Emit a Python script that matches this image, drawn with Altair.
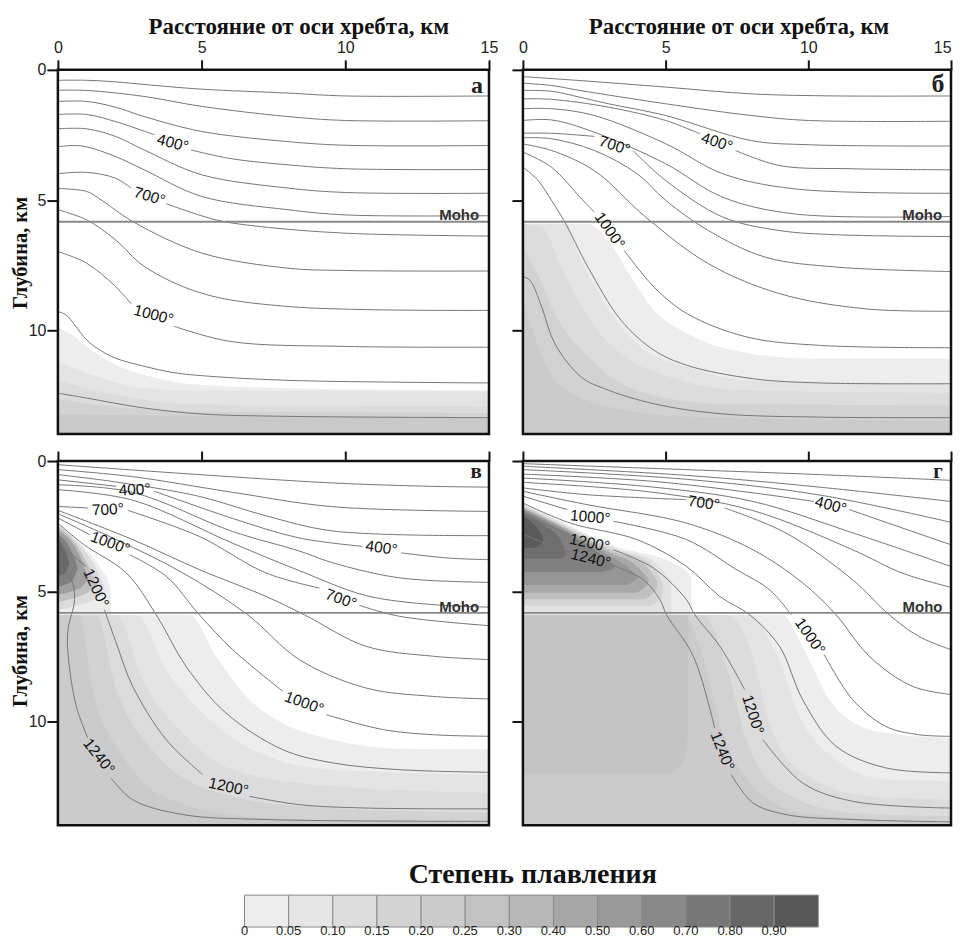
import altair as alt
import pandas as pd

XT = "Расстояние от оси хребта, км"
YT = "Глубина, км"
DMAX = 13.96
MOHO = 5.82
B = 13.96  # bottom of the section, km

# ---------- isotherms: (distance km, depth km), None = gap for a label ----------
A_LINES = [
 [(0,.40),(1,.40),(2,.46),(3,.56),(5,.74),(8,.89),(10,1.0),(15,1.0)],
 [(0,.78),(1,.79),(3,1.02),(5,1.40),(8,1.79),(10,1.94),(15,1.95)],
 [(0,1.21),(1,1.21),(2,1.43),(3,1.79),(5,2.36),(8,2.75),(10,2.89),(15,2.90)],
 [(0,1.71),(1,1.71),(2,1.98),(3,2.35),(3.36,2.49),None,(4.63,3.07),(6,3.4),(8,3.64),(10,3.79),(15,3.82)],
 [(0,2.26),(1,2.26),(2,2.55),(3,3.07),(5,4.02),(8,4.53),(10,4.70),(15,4.73)],
 [(0,2.95),(.5,2.90),(1,2.95),(2,3.32),(3,3.83),(5,4.85),(8,5.36),(10,5.56),(15,5.59)],
 [(0,3.98),(1,3.93),(2,4.15),(2.55,4.53),None,(3.77,5.13),(5.5,5.75),(7,6.0),(10,6.26),(15,6.37)],
 [(0,4.55),(1,4.66),(1.5,4.98),(2.6,5.81),(5,7.02),(8,7.6),(10,7.69),(15,7.71)],
 [(0,5.36),(1,5.75),(2,6.51),(3,7.53),(5,8.56),(8,9.07),(15,9.22)],
 [(0,6.96),(1,7.41),(2,8.30),(2.55,8.97),None,(4.05,9.83),(6,10.41),(10,10.6),(15,10.63)],
 [(0,9.26),(.29,9.4),(.58,9.77),(1,10.35),(1.45,10.73),(2,11.05),(3,11.36),(4,11.6),(5,11.72),(8,11.9),(15,12.0)],
 [(0,12.39),(1,12.58),(3,12.96),(5,13.19),(8,13.28),(15,13.33)],
]
B_LINES = [
 [(0,.26),(2,.41),(5,.66),(8,.92),(11,1.0),(15,1.0)],
 [(0,.51),(1,.6),(2,.79),(5,1.3),(8,1.75),(10,1.94),(15,1.97)],
 [(0,.79),(1,.82),(2,1.05),(3,1.3),(5,1.75),(8,2.71),(10,2.87),(15,2.92)],
 [(0,1.11),(1,1.13),(3,1.43),(5,1.94),(6.2,2.45),None,(7.45,3.09),(9,3.67),(11.5,3.79),(15,3.83)],
 [(0,1.49),(1,1.49),(2.5,1.75),(5,2.83),(7,3.98),(9.5,4.56),(15,4.73)],
 [(0,1.94),(1,1.92),(2.5,2.39),(5,3.6),(7,4.88),(9.5,5.52),(15,5.62)],
 [(0,2.43),(1,2.43),(2.5,2.55),None,(3.85,3.09),(5,4.24),(7,5.64),(9,6.16),(11,6.32),(15,6.39)],
 [(0,2.6),(1,2.64),(2.5,3.09),(4,3.98),(5,5.0),(6.5,6.16),(8.5,7.18),(11,7.56),(15,7.73)],
 [(0,2.84),(1,3.09),(2.5,3.86),(4.3,5.64),(6.5,7.43),(9,8.58),(12,9.16),(15,9.25)],
 [(0,3.15),(1,3.73),(2,4.88),(2.5,5.45),None,(3.55,6.92),(4.6,8.33),(5.76,9.35),(7.85,10.24),(10.4,10.56),(15,10.65)],
 [(0,3.73),(.5,4.2),(1,5.0),(1.47,5.84),(2.28,7.56),(3.44,9.6),(4.6,10.75),(5.76,11.33),(8.08,11.84),(10.4,12.0),(15,12.03)],
 [(0,7.92),(.25,8.07),(.66,9.09),(1.12,10.5),(2.05,11.78),(2.86,12.22),(4.6,12.8),(6.92,13.18),(10.4,13.31),(15,13.33)],
]
C_LINES = [
 [(0,.14),(4.92,.52),(9.56,.84),(13,.97),(15,1.0)],
 [(0,.33),(2.6,.6),(6.08,1.2),(9.56,1.75),(15,1.93)],
 [(0,.52),(2,.8),(4.9,1.35),(7.24,2.1),(9.56,2.68),(15,2.86)],
 [(0,.72),(2.03,.97),None,(3.36,1.16),(6.08,2.2),(8.4,2.95),(10.6,3.27),None,(11.94,3.52),(13.6,3.72),(15,3.78)],
 [(0,.91),(2.6,1.2),(6.08,2.7),(8.4,3.45),(9.56,3.9),(11.9,4.48),(15,4.65)],
 [(0,1.1),(2.6,1.5),(6.08,3.15),(8.4,4.2),(10.7,5.15),(13,5.5),(15,5.6)],
 [(0,1.74),(1.04,1.8),None,(2.43,1.89),(4.92,2.89),(7.24,4.29),(9.1,4.87),None,(10.49,5.53),(11.88,5.95),(15,6.31)],
 [(0,1.89),(2.6,3.01),(4.92,4.16),(7.24,5.19),(8.57,5.89),(10.72,7.1),(13.04,7.48),(15,7.61)],
 [(0,2.02),(2.03,3.01),(4.35,4.29),(6.6,5.89),(8.4,7.61),(10.72,8.7),(13.04,9.02),(15,9.12)],
 [(0,2.18),(1.1,2.82),None,(2.49,3.59),(3.77,4.42),(4.92,5.89),(6.08,7.23),(7.82,8.82),None,(9.33,9.72),(11.3,10.29),(13.04,10.49),(15,10.55)],
 [(0,2.38),(.9,3.2),(2.38,4.29),(3.42,5.89),(4.46,7.87),(5.85,9.66),(7.82,11.06),(9.56,11.57),(11.88,11.83),(15,11.93)],
 [(0,3.14),(.98,4.04),None,(1.62,5.7),(2.03,6.97),(2.6,8.63),(3.77,10.68),(5.04,12.02),None,(6.66,12.85),(8.4,13.17),(10.72,13.3),(15,13.33)],
 [(0,4.01),(.46,4.55),(.58,5.31),(.35,6.46),(.35,7.36),(.64,9.4),(1.04,10.61),None,(1.85,12.15),(2.6,12.98),(4.35,13.55),(7.24,13.74),(15,13.81)],
]
D_LINES = [
 [(0,.1),(5.73,.33),(10.38,.52),(15,.74)],
 [(0,.2),(5.73,.55),(10.38,1.0),(15,1.55)],
 [(0,.33),(5.73,.7),(10.38,1.3),(15,2.35)],
 [(0,.5),(4.57,.78),(8.06,1.22),(10.2,1.55),None,(11.43,1.86),(13.3,2.57),(15,3.21)],
 [(0,.65),(4.57,1.0),(8.06,1.55),(11.55,2.75),(15,4.04)],
 [(0,.82),(4.57,1.2),(8.06,1.9),(11.55,3.4),(13.3,4.3),(15,4.84)],
 [(0,1.03),(2.24,1.29),(5.73,1.48),None,(7.07,1.8),(9.22,2.76),(11.55,4.55),(12.83,5.89),(13.87,6.72),(15,7.23)],
 [(0,1.16),(2.24,1.67),(5.73,2.38),(8.06,3.4),(9.8,4.67),(10.97,5.89),(12.13,7.48),(13.64,8.63),(15,8.95)],
 [(0,1.35),(1.55,1.86),None,(3.17,2.31),(5.73,3.01),(7.48,4.16),(8.64,4.93),(9.4,5.89),None,(10.56,7.42),(11.55,9.14),(12.71,10.17),(13.87,10.49),(15,10.55)],
 [(0,1.61),(1.66,2.38),(3.99,3.01),(5.73,4.04),(6.9,5.19),(7.94,5.89),(8.99,7.1),(9.8,9.14),(10.97,10.93),(12.71,11.76),(15,11.95)],
 [(0,2.06),(1.66,2.82),None,(3.17,3.4),(4.57,4.1),(5.73,5.31),(6.02,5.89),(6.9,7.1),(7.77,8.76),None,(8.41,10.68),(9.8,12.34),(11.55,13.04),(15,13.3)],
 [(0,2.82),(1.66,3.52),None,(3.17,4.01),(4.22,4.55),(4.8,5.31),(5.03,5.89),(5.97,7.48),(6.72,10.23),None,(7.3,12.02),(8.06,13.1),(9.22,13.55),(11.55,13.74),(15,13.83)],
]

# ---------- isotherm labels: text, distance, depth, rotation ----------
A_LABELS = [("400°",4.0,2.81,15),("700°",3.19,4.85,17),("1000°",3.33,9.39,15)]
B_LABELS = [("700°",3.21,2.9,18),("400°",6.8,2.77,18),("1000°",3.04,6.16,55)]
C_LABELS = [("400°",2.67,1.1,357),("700°",1.74,1.86,357),("1000°",1.82,3.14,20),("1200°",1.33,4.87,65),
            ("400°",11.26,3.33,8),("700°",9.85,5.29,20),("1000°",8.57,9.27,20),("1200°",5.94,12.49,12),("1240°",1.43,11.32,52)]
D_LABELS = [("700°",6.34,1.61,8),("400°",10.79,1.7,15),("1000°",2.36,2.15,5),("1200°",2.34,3.14,12),("1240°",2.38,3.74,14),
            ("1000°",10.06,6.72,55),("1200°",8.06,9.72,72),("1240°",6.99,11.12,68)]

# ---------- melt bands: colour, [(distance, upper depth, lower depth)] ----------
M = 5.9
A_BANDS = [
 ("#ededed",[(0,9.9,B),(.5,10.15,B),(1,10.6,B),(2,11.3,B),(3,11.69,B),(4,11.95,B),(5,12.07,B),(8,12.2,B),(15,12.29,B)]),
 ("#e4e4e4",[(0,11.24,B),(1,11.62,B),(3,12.2,B),(5,12.29,B),(15,12.33,B)]),
 ("#dcdcdc",[(0,11.9,B),(1,12.2,B),(3,12.64,B),(5,12.83,B),(15,12.9,B)]),
 ("#d2d2d2",[(0,12.6,B),(1,12.8,B),(3,13.0,B),(5,13.1,B),(15,13.15,B)]),
 ("#c9c9c9",[(0,13.2,B),(5,13.27,B),(15,13.35,B)]),
]
B_BANDS = [
 ("#ededed",[(0,M,B),(2.28,M,B),(2.98,6.54,B),(3.79,7.94,B),(4.6,9.22,B),(5.76,10.1,B),(8,10.88,B),(10.4,11.07,B),(15,11.07,B)]),
 ("#e4e4e4",[(0,M,B),(1.47,M,B),(1.93,7.05,B),(4,10.5,B),(5.76,11.39,B),(8,11.9,B),(15,12.0,B)]),
 ("#dcdcdc",[(0,M,B),(.66,6.03,B),(1.36,7.56,B),(2.28,9.48,B),(3.44,10.88,B),(5.18,11.78,B),(8,12.29,B),(15,12.38,B)]),
 ("#d2d2d2",[(0,6.8,B),(.5,7.8,B),(1.12,9.35,B),(2.28,11.0,B),(4,12.29,B),(6.9,12.8,B),(15,12.86,B)]),
 ("#cbcbcb",[(0,8.8,B),(.5,10.5,B),(1.2,12,B),(3,12.9,B),(6,13.3,B),(15,13.45,B)]),
]
C_BANDS = [
 ("#ededed",[(0,2.38,M),(.87,3.25,M),(1.46,4.06,M),(1.8,4.8,M),(1.85,5.5,M)]),
 ("#dcdcdc",[(0,2.42,5.7),(.8,3.25,5.5),(1.3,4.05,5.3),(1.6,4.8,4.8)]),
 ("#c0c0c0",[(0,2.5,5.4),(.7,3.3,5.2),(1.1,4.1,5.0),(1.35,4.7,4.7)]),
 ("#a0a0a0",[(0,2.65,5.1),(.6,3.3,4.95),(.9,4.0,4.75),(1.05,4.5,4.5)]),
 ("#808080",[(0,2.8,4.8),(.45,3.4,4.65),(.7,4.1,4.1)]),
 ("#686868",[(0,3.0,4.4),(.25,3.4,4.3),(.4,3.9,3.9)]),
 ("#ededed",[(0,M,B),(4.58,M,B),(5.5,7.48,B),(6.66,9.14,B),(7.82,10.04,B),(9.56,10.68,B),(11.88,11.03,B),(15,11.06,B)]),
 ("#e4e4e4",[(0,M,B),(2.72,M,B),(3.77,8.0,B),(5.16,9.78,B),(7.24,11.3,B),(9.56,11.83,B),(15,12.02,B)]),
 ("#dcdcdc",[(0,M,B),(2.03,M,B),(2.95,8.38,B),(4.35,10.42,B),(6.08,11.83,B),(9.56,12.46,B),(15,12.72,B)]),
 ("#d2d2d2",[(0,M,B),(1.33,M,B),(2.03,8.76,B),(3.19,10.93,B),(4.92,12.46,B),(8.4,13.23,B),(15,13.49,B)]),
 ("#cbcbcb",[(0,M,B),(.75,M,B),(1.2,8.76,B),(2.26,11.3,B),(3.77,12.91,B),(7.24,13.68,B),(15,13.87,B)]),
]
D_BANDS = [
 ("#ededed",[(0,1.6,M),(1.5,2.4,M),(3.33,3.3,M),(5.06,3.8,M),(5.7,4.2,M),(5.9,4.45,M)]),
 ("#e2e2e2",[(0,1.65,M),(1.5,2.45,M),(3.3,3.35,M),(4.6,3.85,M),(5.2,4.6,M)]),
 ("#d4d4d4",[(0,1.7,5.55),(1.5,2.5,5.55),(3.2,3.4,5.55),(4.4,3.85,5.55),(4.9,4.7,5.2)]),
 ("#c0c0c0",[(0,1.75,5.3),(1.5,2.55,5.3),(3.1,3.45,5.3),(4.2,3.9,5.3),(4.7,4.6,4.9)]),
 ("#a8a8a8",[(0,1.8,5.05),(1.5,2.6,5.05),(3,3.5,5.05),(3.9,3.95,5.05),(4.4,4.5,4.7)]),
 ("#969696",[(0,1.85,4.75),(1.5,2.65,4.75),(2.9,3.55,4.75),(3.6,4.0,4.75),(4.0,4.4,4.5)]),
 ("#808080",[(0,1.9,4.25),(1.5,2.75,4.25),(2.7,3.55,4.25),(3.2,4.0,4.1)]),
 ("#6e6e6e",[(0,2.0,3.75),(.8,2.5,3.75),(1.3,3.0,3.75),(1.5,3.5,3.6)]),
 ("#5a5a5a",[(0,2.1,3.32),(.4,2.45,3.32),(.7,2.85,3.1)]),
 ("#ededed",[(0,M,B),(9.1,M,B),(9.8,7.1,B),(10.73,9.14,B),(11.55,10.0,B),(12.71,10.42,B),(15,10.61,B)]),
 ("#e4e4e4",[(0,M,B),(7.94,M,B),(8.87,7.36,B),(9.69,9.78,B),(10.97,11.44,B),(12.71,12.2,B),(15,12.27,B)]),
 ("#dcdcdc",[(0,M,B),(7.13,M,B),(8.06,7.48,B),(8.64,10.04,B),(9.8,11.95,B),(12.13,12.85,B),(15,12.98,B)]),
 ("#d2d2d2",[(0,M,B),(6.31,M,B),(7.13,7.87,B),(7.83,10.68,B),(8.99,12.59,B),(11.55,13.49,B),(15,13.61,B)]),
 ("#cbcbcb",[(0,M,B),(5.62,M,B),(6.31,7.48,B),(6.9,10.04,B),(7.83,12.2,B),(9.8,13.49,B),(15,13.87,B)]),
 ("#c4c4c4",[(0,M,11.99),(4.9,M,11.99),(5.4,M,11.8),(5.7,M,11.2),(5.79,M,10.0),(5.8,M,M)]),
]

# ---------- panel letters and Moho labels ----------
LETTERS = [("а",14.58,.61,24),("б",14.54,.54,26),("в",14.55,.43,21),("г",14.54,.43,21)]
MOHO_POS = [(13.96,5.56),(13.99,5.58),(13.96,5.6),(14.0,5.6)]

# ---------- legend ----------
LEG_TITLE = "Степень плавления"
LEG_COLORS = ["#ededed","#e6e6e6","#dddddd","#d3d3d3","#cccccc","#c2c2c2","#b8b8b8",
              "#a6a6a6","#999999","#888888","#777777","#666666","#585858"]
LEG_LABELS = ["0","0.05","0.10","0.15","0.20","0.25","0.30","0.40","0.50","0.60","0.70","0.80","0.90"]

PW, PW2, PH = 432, 429, 365
SX = alt.Scale(domain=[0, 15], nice=False, zero=False)
SY = alt.Scale(domain=[0, DMAX], reverse=True, nice=False, zero=False)


def panel(lines, labels, bands, letter, moho_pos, top_labels, left_labels, title_x, ytitle_y, w):
    xkw = {}
    if w == PW2:
        xkw["labelAlign"] = alt.expr("datum.value == 15 ? 'right' : 'center'")
    xaxis = alt.Axis(orient="top", values=[0, 5, 10, 15], grid=False, domain=False, tickSize=10,
                     tickWidth=2, tickColor="#111", labels=top_labels, labelFontSize=16,
                     labelFont="Liberation Sans", labelColor="#222", labelPadding=4, labelAngle=0,
                     title=XT if top_labels else None, titleFont="Liberation Serif", titleFontSize=23,
                     titleFontWeight="bold", titleColor="#111", titleX=title_x, titleY=-31.5 if top_labels else 0,
                     format="d", labelFlush=False, labelOverlap=False, **xkw)
    yaxis = alt.Axis(values=[0, 5, 10], grid=False, domain=False, tickSize=11, tickWidth=2, tickColor="#111",
                     labels=left_labels, labelFontSize=16, labelFont="Liberation Sans", labelColor="#222",
                     labelPadding=1, title=YT if left_labels else None, titleFont="Liberation Serif",
                     titleFontSize=20.5, titleFontWeight="bold", titleColor="#111", titleX=-27,
                     titleY=ytitle_y, format="d", labelFlush=False, labelOverlap=False)
    x = alt.X("x:Q", scale=SX, axis=xaxis)
    y = alt.Y("y:Q", scale=SY, axis=yaxis)
    layers = []
    for color, pts in bands:
        df = pd.DataFrame(pts, columns=["x", "y", "y2"])
        layers.append(alt.Chart(df).mark_area(color=color, interpolate="monotone", clip=True, opacity=1)
                      .encode(x=x, y=y, y2="y2:Q"))
    rows, seg = [], 0
    for ln in lines:
        seg += 1
        i = 0
        for p in ln:
            if p is None:
                seg += 1
                continue
            rows.append({"x": p[0], "y": p[1], "seg": seg, "i": i})
            i += 1
    layers.append(alt.Chart(pd.DataFrame(rows)).mark_line(color="#757575", strokeWidth=1,
                  interpolate="catmull-rom", clip=True)
                  .encode(x=x, y=y, detail="seg:N", order="i:Q"))
    layers.append(alt.Chart(pd.DataFrame({"x": [0, 15], "y": [MOHO, MOHO]}))
                  .mark_line(color="#888888", strokeWidth=2).encode(x=x, y=y))
    ldf = pd.DataFrame(labels, columns=["t", "x", "y", "a"])
    layers.append(alt.Chart(ldf).mark_text(font="Liberation Sans", fontSize=15.5, color="#111")
                  .encode(x=x, y=y, text="t:N", angle=alt.Angle("a:Q", scale=None)))
    layers.append(alt.Chart(pd.DataFrame([{"t": "Moho", "x": moho_pos[0], "y": moho_pos[1]}]))
                  .mark_text(font="Liberation Sans", fontSize=15, fontWeight="bold", color="#333")
                  .encode(x=x, y=y, text="t:N"))
    layers.append(alt.Chart(pd.DataFrame([{"t": letter[0], "x": letter[1], "y": letter[2]}]))
                  .mark_text(font="Liberation Serif", fontSize=letter[3], fontWeight="bold", color="#222")
                  .encode(x=x, y=y, text="t:N"))
    layers.append(alt.Chart(pd.DataFrame([{"x": 0, "x2": 15, "y": 0, "y2": DMAX}]))
                  .mark_rect(fill=None, stroke="#111", strokeWidth=2.5)
                  .encode(x=x, x2="x2:Q", y=y, y2="y2:Q"))
    return alt.layer(*layers).properties(width=w, height=PH)


pa = panel(A_LINES, A_LABELS, A_BANDS, LETTERS[0], MOHO_POS[0], True, True, 241, 183, PW)
pb = panel(B_LINES, B_LABELS, B_BANDS, LETTERS[1], MOHO_POS[1], True, False, 216, 183, PW2)
pc = panel(C_LINES, C_LABELS, C_BANDS, LETTERS[2], MOHO_POS[2], False, True, 216, 190, PW)
pd_ = panel(D_LINES, D_LABELS, D_BANDS, LETTERS[3], MOHO_POS[3], False, False, 216, 190, PW2)

n = len(LEG_COLORS)
leg_df = pd.DataFrame({"i": list(range(n)), "i2": [k + 1 for k in range(n)], "c": LEG_COLORS,
                       "y": [0] * n, "y2": [1] * n, "ly": [-.13] * n, "t": LEG_LABELS})
LX = alt.Scale(domain=[-4.228, 5.539], nice=False, zero=False)
LY = alt.Scale(domain=[0, 2.344], nice=False, zero=False)
lx = alt.X("i:Q", scale=LX, axis=None)
leg_rect = (
    alt.Chart(leg_df)
    .mark_rect(stroke="#8a8a8a", strokeWidth=1)
    .encode(x=lx, x2="i2:Q", y=alt.Y("y:Q", scale=LY, axis=None), y2="y2:Q", fill=alt.Fill("c:N", scale=None))
)
leg_text = (
    alt.Chart(leg_df)
    .mark_text(font="Liberation Sans", fontSize=13, color="#222")
    .encode(x=lx, y=alt.Y("ly:Q", scale=LY, axis=None), text="t:N")
)
leg_title = (
    alt.Chart(pd.DataFrame([{"i": 6.53, "y": 1.625, "t": LEG_TITLE}]))
    .mark_text(font="Liberation Serif", fontSize=28, fontWeight="bold", color="#111")
    .encode(x=lx, y=alt.Y("y:Q", scale=LY, axis=None), text="t:N")
)
legend = alt.layer(leg_rect, leg_text, leg_title).properties(width=PW, height=75)

chart = (
    alt.concat(pa, pb, pc, pd_, legend, columns=2, spacing={"row": 27, "column": 34}, bounds="flush")
    .configure_view(stroke=None)
    .properties(padding={"left": 3, "top": 6, "right": -1, "bottom": -2})
)

chart.save("out.html", embed_options={"renderer": "svg", "actions": False})
